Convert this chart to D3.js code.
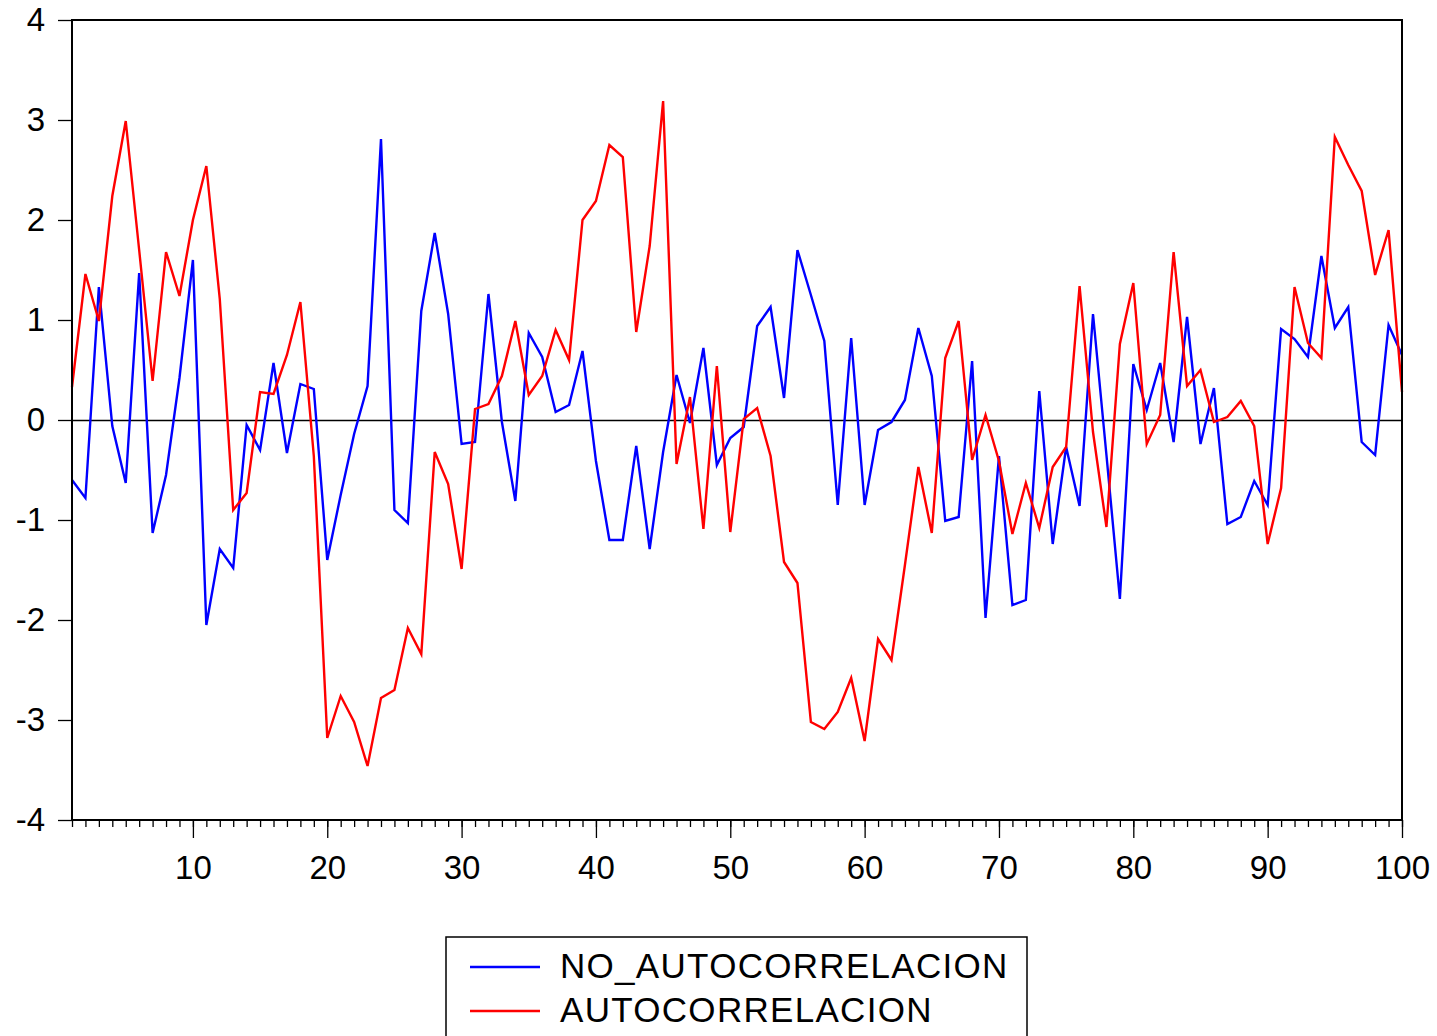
<!DOCTYPE html>
<html>
<head>
<meta charset="utf-8">
<script src="https://cdn.jsdelivr.net/npm/d3@7"></script>
<style>
  body { margin: 0; background: #fff; }
  text { font-family: Arial, "Liberation Sans", sans-serif; }
</style>
</head>
<body>
<script>
  //Data
  var obs = d3.range(1, 101); //observation number 1..100

  var noAutocorrelacion = [
      -0.60, -0.78, 1.33, -0.06, -0.63, 1.47, -1.13, -0.55, 0.42, 1.60,
      -2.05, -1.29, -1.48, -0.05, -0.30, 0.57, -0.33, 0.36, 0.31, -1.40,
      -0.75, -0.14, 0.34, 2.81, -0.90, -1.03, 1.09, 1.87, 1.06, -0.24,
      -0.22, 1.26, -0.02, -0.81, 0.87, 0.63, 0.08, 0.15, 0.69, -0.41,
      -1.20, -1.20, -0.26, -1.29, -0.32, 0.45, -0.03, 0.72, -0.45, -0.18,
      -0.07, 0.94, 1.13, 0.22, 1.70, 1.25, 0.79, -0.85, 0.82, -0.85,
      -0.10, -0.02, 0.20, 0.92, 0.44, -1.01, -0.97, 0.59, -1.98, -0.36,
      -1.85, -1.80, 0.29, -1.24, -0.27, -0.86, 1.06, -0.35, -1.79, 0.56,
      0.10, 0.57, -0.22, 1.03, -0.24, 0.32, -1.04, -0.97, -0.61, -0.85,
      0.91, 0.81, 0.63, 1.64, 0.92, 1.13, -0.22, -0.35, 0.95, 0.65
  ];

  var autocorrelacion = [
      0.33, 1.46, 0.99, 2.24, 2.99, 1.70, 0.39, 1.68, 1.24, 2.00,
      2.54, 1.21, -0.90, -0.73, 0.28, 0.26, 0.65, 1.18, -0.36, -3.18,
      -2.76, -3.02, -3.46, -2.78, -2.70, -2.08, -2.34, -0.32, -0.64, -1.49,
      0.11, 0.16, 0.44, 0.99, 0.25, 0.44, 0.90, 0.60, 2.00, 2.19,
      2.75, 2.63, 0.88, 1.74, 3.19, -0.44, 0.23, -1.09, 0.54, -1.12,
      0.01, 0.12, -0.36, -1.42, -1.63, -3.02, -3.09, -2.92, -2.58, -3.21,
      -2.19, -2.40, -1.45, -0.47, -1.13, 0.62, 0.99, -0.40, 0.05, -0.41,
      -1.14, -0.63, -1.08, -0.47, -0.27, 1.34, -0.12, -1.07, 0.76, 1.37,
      -0.24, 0.05, 1.68, 0.34, 0.50, -0.02, 0.03, 0.19, -0.06, -1.24,
      -0.68, 1.33, 0.77, 0.62, 2.83, 2.55, 2.29, 1.45, 1.90, 0.28
  ];

  var yTicks = [-4, -3, -2, -1, 0, 1, 2, 3, 4];
  var xLabelTicks = [10, 20, 30, 40, 50, 60, 70, 80, 90, 100];
  var seriesNames = ["NO_AUTOCORRELACION", "AUTOCORRELACION"];
  var seriesColors = ["#0000ff", "#ff0000"];

  var w = 1437;
  var h = 1036;
  var plotL = 72, plotR = 1402, plotT = 20, plotB = 820; //plot box

  //SCALES
  var x = d3.scaleLinear().domain([1, 100]).range([plotL, plotR]);
  var y = d3.scaleLinear().domain([-4, 4]).range([plotB, plotT]);

  var svg = d3.select("body")
      .append("svg")
      .attr("width", w)
      .attr("height", h);

  //AXES
  var yAxis = svg.append("g")
      .attr("transform", "translate(" + plotL + ",0)")
      .call(d3.axisLeft(y).tickValues(yTicks).tickSize(14).tickPadding(13)
          .tickFormat(function(d) { return String(d); })); //plain hyphen
  yAxis.select(".domain").remove();
  yAxis.selectAll("line").attr("stroke", "#000").attr("stroke-width", 1.3);
  yAxis.selectAll("text").attr("font-size", 33).attr("fill", "#000")
      .attr("font-family", "Arial, 'Liberation Sans', sans-serif");

  //minor ticks, one per observation
  var xMinor = svg.append("g")
      .attr("transform", "translate(0," + plotB + ")")
      .call(d3.axisBottom(x).tickValues(obs).tickSize(7).tickFormat(""));
  xMinor.select(".domain").remove();
  xMinor.selectAll("line").attr("stroke", "#000").attr("stroke-width", 1.3);

  var xMajor = svg.append("g")
      .attr("transform", "translate(0," + plotB + ")")
      .call(d3.axisBottom(x).tickValues(xLabelTicks).tickSize(18).tickPadding(18));
  xMajor.select(".domain").remove();
  xMajor.selectAll("line").attr("stroke", "#000").attr("stroke-width", 1.3);
  xMajor.selectAll("text").attr("font-size", 33).attr("fill", "#000")
      .attr("font-family", "Arial, 'Liberation Sans', sans-serif");

  //zero line
  svg.append("line")
      .attr("x1", plotL).attr("x2", plotR)
      .attr("y1", y(0) + 0.5).attr("y2", y(0) + 0.5)
      .attr("stroke", "#000")
      .attr("stroke-width", 1.3);

  //LINES
  var series = [noAutocorrelacion, autocorrelacion];
  var line = d3.line()
      .x(function(d, i) { return x(obs[i]); })
      .y(function(d) { return y(d); });

  svg.selectAll(".series")
      .data(series)
      .enter()
      .append("path")
      .attr("class", "series")
      .attr("d", line)
      .attr("fill", "none")
      .attr("stroke", function(d, i) { return seriesColors[i]; })
      .attr("stroke-width", 2.4)
      .attr("stroke-linejoin", "miter");

  //frame
  svg.append("rect")
      .attr("x", plotL).attr("y", plotT)
      .attr("width", plotR - plotL).attr("height", plotB - plotT)
      .attr("fill", "none")
      .attr("stroke", "#000")
      .attr("stroke-width", 2);

  //LEGEND
  var legend = svg.append("g");
  legend.append("rect")
      .attr("x", 446).attr("y", 937)
      .attr("width", 581).attr("height", 130)
      .attr("fill", "none")
      .attr("stroke", "#000")
      .attr("stroke-width", 1.5);

  var items = legend.selectAll(".item")
      .data(seriesNames)
      .enter()
      .append("g")
      .attr("class", "item")
      .attr("transform", function(d, i) { return "translate(0," + (i * 44) + ")"; });

  items.append("line")
      .attr("x1", 470).attr("x2", 540)
      .attr("y1", 967).attr("y2", 967)
      .attr("stroke", function(d, i) { return seriesColors[i]; })
      .attr("stroke-width", 2.4);

  items.append("text")
      .attr("x", 560).attr("y", 978)
      .attr("font-size", 35)
      .attr("letter-spacing", 1.3)
      .attr("fill", "#000")
      .text(function(d) { return d; });
</script>
</body>
</html>
